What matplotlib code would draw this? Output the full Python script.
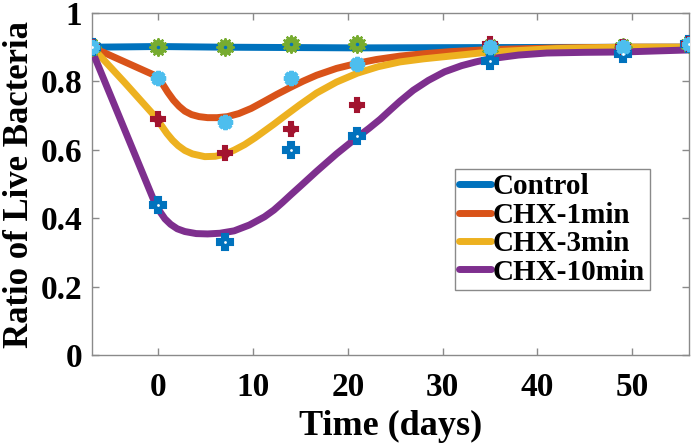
import matplotlib
matplotlib.use("Agg")
import matplotlib.pyplot as plt

plt.rcParams['font.family'] = ['Liberation Serif', 'DejaVu Serif']
plt.rcParams['font.weight'] = 'bold'

# Measured data (markers)
days = [-7, 0, 7, 14, 21, 35, 49, 56]
control_pts = [0.90, 0.90, 0.90, 0.91, 0.91, 0.90, 0.90, 0.91]
chx1_pts = [0.90, 0.81, 0.68, 0.81, 0.85, 0.90, 0.90, 0.91]
chx3_pts = [0.90, 0.69, 0.59, 0.66, 0.73, 0.91, 0.90, 0.91]
chx10_pts = [0.90, 0.44, 0.33, 0.60, 0.64, 0.86, 0.88, 0.91]

# Fitted curves
control_x = [-7, 0, 7, 14, 21, 35, 56]
control_y = [0.900, 0.902, 0.900, 0.899, 0.898, 0.899, 0.900]

chx1_x = [-7, 0, 0.5, 1.0, 1.6, 2.2, 2.8, 3.5, 4.3, 5.2, 6.2, 7.3, 8.5, 9.8, 11.2, 12.5, 13.9, 15.3, 16.7,
          18.8, 21, 23, 25.5, 28, 30.8, 35, 42, 49, 56]
chx1_y = [0.900, 0.813, 0.790, 0.768, 0.745, 0.727, 0.713, 0.703, 0.697, 0.694, 0.694, 0.697, 0.706, 0.721,
          0.742, 0.762, 0.782, 0.801, 0.818, 0.838, 0.853, 0.864, 0.874, 0.881, 0.887, 0.893, 0.898, 0.900, 0.900]

chx3_x = [-7, -3.5, -0.2, 0.3, 0.9, 1.5, 2.1, 2.8, 3.6, 4.9, 6.0, 7.0, 8.0, 9.1, 10.2, 11.2, 12.2, 13.1, 14.9,
          16.7, 18.8, 21, 23.2, 25.5, 28, 30.8, 35, 42, 49, 56]
chx3_y = [0.900, 0.795, 0.693, 0.672, 0.648, 0.628, 0.612, 0.598, 0.588, 0.580, 0.581, 0.587, 0.599, 0.615,
          0.635, 0.655, 0.675, 0.694, 0.731, 0.766, 0.798, 0.824, 0.843, 0.857, 0.866, 0.874, 0.886, 0.896,
          0.900, 0.900]

chx10_x = [-7, -0.4, 0.2, 0.7, 1.3, 2.0, 2.8, 4.0, 5.2, 6.5, 8.0, 9.6, 11.2, 12.2, 13.1, 14.0, 15.0, 16.7,
           18.8, 21, 22.2, 23.4, 24.5, 25.5, 26.9, 28.5, 30.2, 32.0, 33.5, 35, 38, 41, 45, 49, 56]
chx10_y = [0.890, 0.447, 0.418, 0.398, 0.382, 0.369, 0.361, 0.355, 0.354, 0.356, 0.363, 0.380, 0.404, 0.424,
           0.446, 0.469, 0.494, 0.537, 0.588, 0.637, 0.662, 0.689, 0.717, 0.742, 0.774, 0.803, 0.828, 0.846,
           0.857, 0.866, 0.877, 0.883, 0.885, 0.886, 0.892]

labels = ["Control", "CHX-1min", "CHX-3min", "CHX-10min"]
line_colors = ["#0072BD", "#D95319", "#EDB120", "#7E2F8E"]

fig = plt.figure(figsize=(7.0, 4.47), dpi=100)
ax = fig.add_axes([92/700, 1-355/447, 597/700, 342/447])

lw = 5.0
kw = dict(lw=lw, solid_capstyle='round', solid_joinstyle='round', zorder=3)
ax.plot(control_x, control_y, color=line_colors[0], label=labels[0], **kw)
ax.plot(chx1_x, chx1_y, color=line_colors[1], label=labels[1], **kw)
ax.plot(chx3_x, chx3_y, color=line_colors[2], label=labels[2], **kw)
ax.plot(chx10_x, chx10_y, color=line_colors[3], label=labels[3], **kw)

# markers
green = "#77AC30"
lblue = "#4DBEEE"
dred = "#A2142F"
blue = "#0072BD"

# CHX-10min (blue plus)
ax.plot(days, chx10_pts, ls='none', marker='P', ms=11, color=blue, mec=blue, mew=1.5, zorder=5)
ax.plot(days, chx10_pts, ls='none', marker='o', ms=2, color='white', mec='none', zorder=6)
# Control (green gear)
ax.plot(days, control_pts, ls='none', marker='o', ms=10, color=green, mec=green, zorder=4)
ax.plot(days, control_pts, ls='none', marker=(12, 2, 0), ms=13, color=green, mec=green, mew=1.5, zorder=4)
ax.plot(days, control_pts, ls='none', marker='o', ms=2.5, color=blue, mec='none', zorder=4)
# CHX-3min (dark red plus)
ax.plot(days, chx3_pts, ls='none', marker='P', ms=10, color=dred, mec=dred, mew=1.5, zorder=5)
ax.plot(days, chx3_pts, ls='none', marker='o', ms=7, color=dred, mec='none', zorder=5)
# CHX-1min (light blue asterisk blob)
ax.plot(days, chx1_pts, ls='none', marker='o', ms=7, color=lblue, mec='none', zorder=5)
ax.plot(days, chx1_pts, ls='none', marker=(8, 2, 0), ms=11, color=lblue, mec=lblue, mew=3, zorder=5)

ax.set_xlim(-7, 56)
ax.set_ylim(0, 1)
ax.set_xticks([0, 10, 20, 30, 40, 50])
ax.set_yticks([0, 0.2, 0.4, 0.6, 0.8, 1])
ax.set_yticklabels(["0", "0.2", "0.4", "0.6", "0.8", "1"])

spine_c = "#8a8a8a"
for s in ax.spines.values():
    s.set_color(spine_c)
    s.set_linewidth(1.0)
ax.tick_params(direction='in', length=5, width=1.0, color=spine_c,
               top=True, right=True, labelsize=24)
ax.tick_params(axis='x', pad=12)
ax.tick_params(axis='y', pad=7)
for t in ax.get_xticklabels() + ax.get_yticklabels():
    t.set_fontweight('bold')

ax.set_xlabel("Time (days)", fontsize=26, fontweight='bold', labelpad=5)
ax.set_ylabel("Ratio of Live Bacteria", fontsize=25, fontweight='bold', labelpad=3)

leg = ax.legend(loc='upper left', bbox_to_anchor=(0.608, 0.544), borderaxespad=0,
                handlelength=1.1, handletextpad=0.05, borderpad=0.15,
                labelspacing=0.05, fancybox=False, framealpha=1, edgecolor=spine_c,
                prop={'weight': 'bold', 'size': 21})
leg.get_frame().set_linewidth(1.0)

fig.savefig("out.png", dpi=100)
